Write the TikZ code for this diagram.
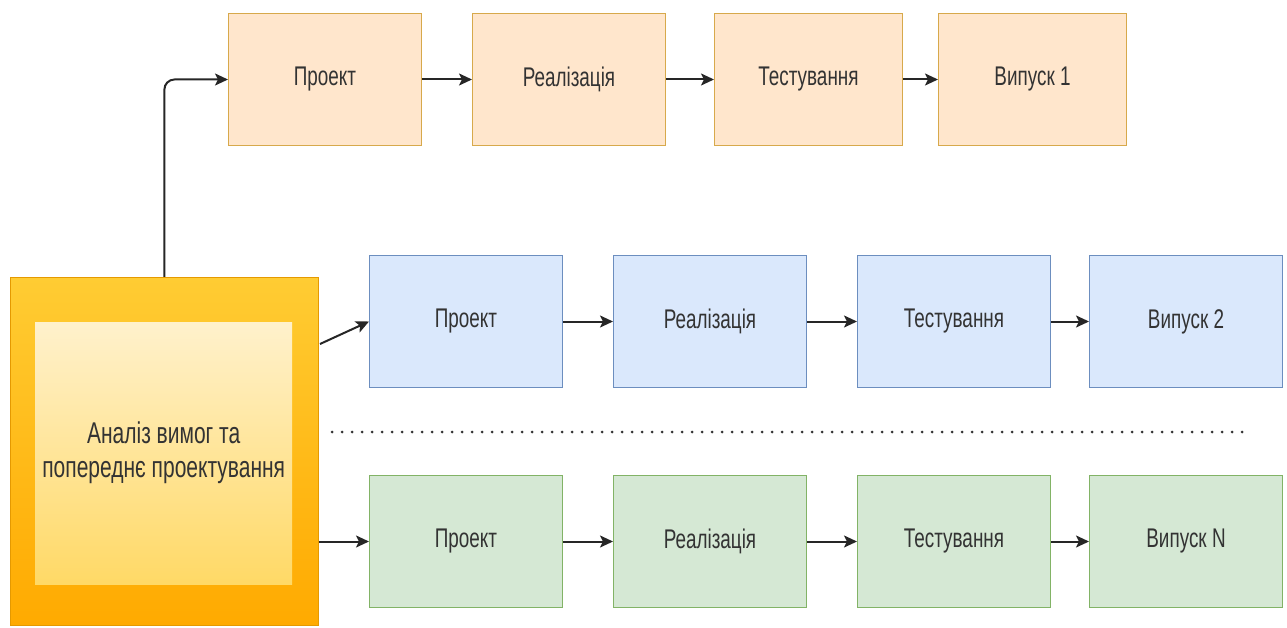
\documentclass[tikz,border=0pt]{standalone}
\usepackage{fontspec}
\setmainfont{Liberation Sans}[FakeStretch=0.7]
\usetikzlibrary{arrows.meta,calc}
\definecolor{txt}{HTML}{333333}
\definecolor{orfill}{HTML}{FFE6CC}
\definecolor{ordraw}{HTML}{D7A94B}
\definecolor{blfill}{HTML}{DAE8FC}
\definecolor{bldraw}{HTML}{6C8EBF}
\definecolor{grfill}{HTML}{D5E8D4}
\definecolor{grdraw}{HTML}{82B366}
\definecolor{goldtop}{HTML}{FFCC33}
\definecolor{goldbot}{HTML}{FFAA00}
\definecolor{pale}{HTML}{FFF1CC}
\definecolor{palebot}{HTML}{FFD966}
\tikzset{
  stage/.style={draw, line width=1pt, anchor=north west, minimum height=132pt,
    minimum width=193pt, text=txt, font=\fontsize{27}{30}\selectfont, inner sep=0pt},
  orbox/.style={stage, fill=orfill, draw=ordraw},
  blbox/.style={stage, fill=blfill, draw=bldraw},
  grbox/.style={stage, fill=grfill, draw=grdraw},
  arr/.style={line width=2pt, draw=black!85,
    -{Stealth[length=13pt,width=12pt,inset=3pt]}},
}
\begin{document}
\begin{tikzpicture}[x=1pt,y=-1pt]
\useasboundingbox (0,0) rectangle (1287,628);

% requirements analysis block
\node[anchor=north west, minimum width=308pt, minimum height=348pt, inner sep=0pt,
  draw=goldbot!90!black, line width=0.8pt, top color=goldtop, bottom color=goldbot]
  (outer) at (10,277) {};
\node[anchor=north west, minimum width=257pt, minimum height=262pt, inner sep=0pt,
  top color=pale, bottom color=palebot, text=txt, align=center,
  font=\fontsize{30}{34}\selectfont]
  (inner) at (35,322) {Аналіз вимог та\\попереднє проектування};

% release 1
\node[orbox, minimum width=193pt] (p1) at (228,13) {Проект};
\node[orbox, minimum width=193pt] (r1) at (472,13) {Реалізація};
\node[orbox, minimum width=188pt] (t1) at (714,13) {Тестування};
\node[orbox, minimum width=188pt] (v1) at (938,13) {Випуск 1};

% release 2
\node[blbox] (p2) at (369,255) {Проект};
\node[blbox] (r2) at (613,255) {Реалізація};
\node[blbox] (t2) at (857,255) {Тестування};
\node[blbox] (v2) at (1089,255) {Випуск 2};

% release N
\node[grbox] (p3) at (369,475) {Проект};
\node[grbox] (r3) at (613,475) {Реалізація};
\node[grbox] (t3) at (857,475) {Тестування};
\node[grbox] (v3) at (1089,475) {Випуск N};

% connectors
\draw[arr, rounded corners=10pt] (outer.north) |- (p1.west);
\coordinate (s2) at (320,344);
\draw[arr] (s2) -- (p2.west);
\draw[arr] (p3.west -| outer.east) -- (p3.west);

\foreach \i in {1,2,3} {
  \draw[arr] (p\i.east) -- (r\i.west);
  \draw[arr] (r\i.east) -- (t\i.west);
  \draw[arr] (t\i.east) -- (v\i.west);
}

% separator between releases
\coordinate (dl) at (332,432);
\coordinate (dr) at (1248,432);
\draw[line width=3pt, draw=black!80, line cap=round, dash pattern=on 0pt off 10pt] (dl) -- (dr);
\end{tikzpicture}
\end{document}
